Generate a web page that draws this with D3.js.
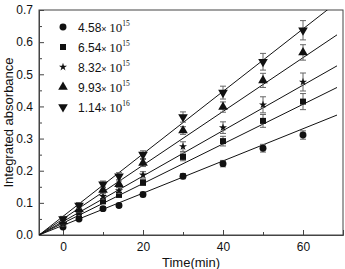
<!DOCTYPE html>
<html lang="en">
<head>
  <meta charset="UTF-8">
  <title>Integrated absorbance vs time</title>
  <style>
    body { margin: 0; background: #fff; }
    text { font-family: "Liberation Sans", Arial, sans-serif; fill: #111; }
    .serif { font-family: "Liberation Serif", "Times New Roman", serif; }
  </style>
</head>
<body>
  <svg width="345" height="269"></svg>
  <script src="https://d3js.org/d3.v7.min.js"></script>
  <script>
// Data
const times = [0, 4, 10, 14, 20, 30, 40, 50, 60];
const seriesNames = ["4.58", "6.54", "8.32", "9.93", "1.14"];
const seriesExp = ["15", "15", "15", "15", "16"];
const s1 = [0.025, 0.050, 0.082, 0.092, 0.126, 0.183, 0.222, 0.270, 0.311];
const s2 = [0.030, 0.058, 0.105, 0.125, 0.163, 0.243, 0.292, 0.355, 0.415];
const s3 = [0.035, 0.068, 0.120, 0.138, 0.187, 0.275, 0.334, 0.405, 0.476];
const s4 = [0.042, 0.080, 0.140, 0.158, 0.224, 0.325, 0.398, 0.481, 0.568];
const s5 = [0.050, 0.092, 0.158, 0.183, 0.250, 0.367, 0.443, 0.539, 0.637];
const e1 = [0.005, 0.005, 0.006, 0.006, 0.007, 0.008, 0.010, 0.012, 0.013];
const e2 = [0.006, 0.006, 0.008, 0.008, 0.009, 0.012, 0.015, 0.020, 0.025];
const e3 = [0.007, 0.007, 0.008, 0.009, 0.010, 0.015, 0.018, 0.025, 0.028];
const e4 = [0.007, 0.008, 0.009, 0.010, 0.011, 0.012, 0.016, 0.022, 0.024];
const e5 = [0.008, 0.009, 0.010, 0.011, 0.012, 0.016, 0.020, 0.026, 0.030];
// linear fits y = a + b*t
const fitA = [0.030, 0.037, 0.042, 0.050, 0.058];
const fitB = [0.00501, 0.00616, 0.00707, 0.00836, 0.00972];
const fitRange = [-6, 68.5];
const xTicks = [0, 20, 40, 60];
const yTicks = [0, 0.1, 0.2, 0.3, 0.4, 0.5, 0.6, 0.7];

const values = [s1, s2, s3, s4, s5];
const errors = [e1, e2, e3, e4, e5];

const margin = { top: 10, right: 2, bottom: 34, left: 39 };
const W = 345, H = 269;
const width = W - margin.left - margin.right,
      height = H - margin.top - margin.bottom;

const svg = d3.select("svg");
const g = svg.append("g").attr("transform", `translate(${margin.left},${margin.top})`);

const x = d3.scaleLinear().domain([-6, 70]).range([0, width]);
const y = d3.scaleLinear().domain([0, 0.7]).range([height, 0]);

// symbols per series
const shapes = [
  { type: d3.symbolCircle, size: 38, rot: 0 },
  { type: d3.symbolSquare, size: 36, rot: 0 },
  { type: d3.symbolStar, size: 20, rot: 0 },
  { type: d3.symbolTriangle, size: 40, rot: 0 },
  { type: d3.symbolTriangle, size: 40, rot: 180 }
];

g.append("clipPath").attr("id", "clip")
  .append("rect").attr("width", width).attr("height", height);

// axes with inward ticks
const xAxis = g.append("g").attr("transform", `translate(0,${height})`)
  .call(d3.axisBottom(x).tickValues(xTicks).tickSize(-5).tickPadding(7));
xAxis.selectAll("text").style("font-size", "12px");
g.append("g").attr("transform", `translate(0,${height})`)
  .call(d3.axisBottom(x).tickValues([10, 30, 50]).tickSize(-3).tickFormat(""))
  .select(".domain").remove();

const yAxis = g.append("g")
  .call(d3.axisLeft(y).tickValues(yTicks).tickSize(-5).tickPadding(6).tickFormat(d3.format(".1f")));
yAxis.selectAll("text").style("font-size", "12px");
g.append("g")
  .call(d3.axisLeft(y).tickValues([0.05, 0.15, 0.25, 0.35, 0.45, 0.55, 0.65]).tickSize(-3).tickFormat(""))
  .select(".domain").remove();

g.selectAll(".domain").attr("stroke", "#444");
g.selectAll(".tick line").attr("stroke", "#444");

// frame
g.append("rect").attr("width", width).attr("height", height)
  .attr("fill", "none").attr("stroke", "#444").attr("stroke-width", 1);

// fit lines
const plot = g.append("g").attr("clip-path", "url(#clip)");
fitA.forEach((a, i) => {
  plot.append("line")
    .attr("x1", x(fitRange[0])).attr("y1", y(a + fitB[i] * fitRange[0]))
    .attr("x2", x(fitRange[1])).attr("y2", y(a + fitB[i] * fitRange[1]))
    .attr("stroke", "#111").attr("stroke-width", 1);
});

// error bars and markers
values.forEach((vals, i) => {
  const sg = g.append("g");
  times.forEach((t, j) => {
    const v = vals[j], e = errors[i][j];
    const cx = x(t);
    sg.append("line").attr("x1", cx).attr("x2", cx)
      .attr("y1", y(v - e)).attr("y2", y(v + e))
      .attr("stroke", "#666").attr("stroke-width", 1);
    [v - e, v + e].forEach(ev => {
      sg.append("line").attr("x1", cx - 3).attr("x2", cx + 3)
        .attr("y1", y(ev)).attr("y2", y(ev))
        .attr("stroke", "#666").attr("stroke-width", 1);
    });
    sg.append("path")
      .attr("d", d3.symbol().type(shapes[i].type).size(shapes[i].size))
      .attr("transform", `translate(${cx},${y(v)}) rotate(${shapes[i].rot})`)
      .attr("fill", "#111");
  });
});

// legend
const legend = g.append("g").attr("transform", "translate(24,17)");
seriesNames.forEach((name, i) => {
  const row = legend.append("g").attr("transform", `translate(0,${i * 20})`);
  row.append("path")
    .attr("d", d3.symbol().type(shapes[i].type).size(shapes[i].size))
    .attr("transform", `rotate(${shapes[i].rot})`)
    .attr("fill", "#111");
  const txt = row.append("text").attr("x", 15).attr("y", 4.5).style("font-size", "12px");
  txt.append("tspan").text(name);
  txt.append("tspan").style("font-size", "9px").text("\u00d7 ");
  txt.append("tspan").attr("class", "serif").style("font-size", "13px").text("10");
  txt.append("tspan").attr("class", "serif").style("font-size", "7.5px").attr("dy", -6).text(seriesExp[i]);
});

// axis titles
svg.append("text")
  .attr("x", margin.left + x(32)).attr("y", 267)
  .attr("text-anchor", "middle").style("font-size", "13px")
  .text("Time(min)");
svg.append("text")
  .attr("transform", `translate(13,${margin.top + height / 2}) rotate(-90)`)
  .attr("text-anchor", "middle").style("font-size", "13px")
  .text("Integrated absorbance");
  </script>
</body>
</html>
